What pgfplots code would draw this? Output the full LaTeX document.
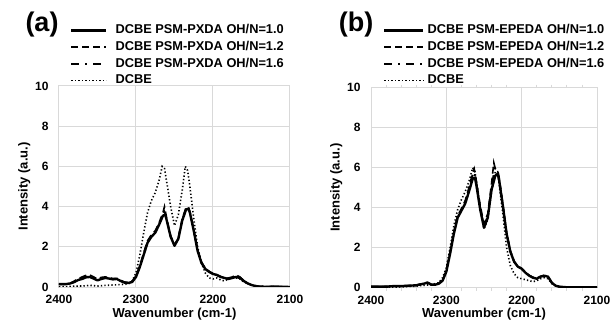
\documentclass[border=0pt]{standalone}
\usepackage{fontspec}
\setmainfont{Liberation Sans}
\usepackage{pgfplots}
\pgfplotsset{compat=1.18}
\definecolor{gridc}{RGB}{217,217,217}
\pgfplotsset{
  spec/.style={
    scale only axis, x dir=reverse, xmin=2100, xmax=2400, ymin=0, ymax=10,
    xtick={2100,2200,2300,2400}, ytick={0,2,4,6,8,10},
    grid=major, major grid style={gridc, line width=1bp},
    axis line style={gridc, line width=1bp},
    major tick length=0pt,
    /pgf/number format/assume math mode=true,
    /pgf/number format/set thousands separator={},
    tick label style={font=\fontsize{12bp}{14bp}\selectfont\bfseries, black},
    label style={font=\fontsize{13bp}{15bp}\selectfont\bfseries},
    xlabel={Wavenumber (cm-1)}, ylabel={Intensity (a.u.)},
    xticklabel style={yshift=-5bp}, yticklabel style={xshift=-7bp},
    xlabel style={yshift=3bp}, ylabel style={yshift=-2bp},
    legend cell align=left,
    legend style={draw=none, fill=none, inner sep=0pt, row sep=5.2bp, column sep=0pt,
      font=\fontsize{12.8bp}{14bp}\selectfont\bfseries, anchor=north west,
      nodes={inner sep=0pt, text height=9bp, text depth=2.5bp}},
  },
  s10/.style={black, line width=2.4bp, line join=round},
  s12/.style={black, line width=1.6bp, dash pattern=on 7bp off 4bp},
  s16/.style={black, line width=1.6bp, dash pattern=on 8bp off 6bp on 2bp off 6bp},
  sdc/.style={black, line width=1.6bp, dash pattern=on 1.3bp off 2.2bp},
}
\begin{document}
\begin{tikzpicture}
\useasboundingbox (0,0) rectangle (613bp,331bp);
\begin{axis}[spec, at={(59bp,44bp)}, anchor=south west, width=231bp, height=201bp,
  legend style={at={(0.0476,1.306)}},
  legend image code/.code={\draw[#1] (0bp,0bp) -- (35bp,0bp); \path (43bp,0bp);}]
\addplot[s10] coordinates {(2400,0.15)(2395,0.15)(2390,0.15)(2385,0.18)(2380,0.25)(2375,0.35)(2370,0.4)(2365,0.48)(2360,0.5)(2355,0.42)(2350,0.33)(2345,0.4)(2340,0.45)(2335,0.42)(2330,0.38)(2325,0.4)(2320,0.3)(2315,0.22)(2310,0.2)(2305,0.25)(2300,0.5)(2295,1.0)(2290,1.6)(2285,2.2)(2280,2.5)(2275,2.7)(2270,3.1)(2265,3.55)(2262,3.6)(2260,3.3)(2255,2.5)(2250,2.05)(2245,2.4)(2240,3.3)(2235,3.85)(2232,3.9)(2230,3.7)(2225,2.8)(2220,1.8)(2215,1.2)(2210,0.9)(2205,0.75)(2200,0.65)(2195,0.6)(2190,0.5)(2185,0.45)(2180,0.4)(2175,0.45)(2170,0.5)(2165,0.45)(2160,0.3)(2155,0.18)(2150,0.1)(2145,0.05)(2140,0.02)(2130,0.01)(2120,0.02)(2110,0.01)(2100,0)};
\addlegendentry{DCBE PSM-PXDA OH/N=1.0}
\addplot[s12] coordinates {(2400,0.15)(2395,0.15)(2390,0.16)(2385,0.2)(2380,0.3)(2375,0.42)(2370,0.5)(2365,0.58)(2360,0.6)(2355,0.5)(2350,0.4)(2345,0.48)(2340,0.5)(2335,0.47)(2330,0.42)(2325,0.43)(2320,0.33)(2315,0.25)(2310,0.22)(2305,0.28)(2300,0.55)(2295,1.05)(2290,1.7)(2285,2.3)(2280,2.6)(2275,2.8)(2270,3.2)(2265,3.7)(2263,4.0)(2260,3.4)(2255,2.55)(2250,2.1)(2245,2.45)(2240,3.4)(2235,3.95)(2232,4.0)(2230,3.75)(2225,2.85)(2220,1.85)(2215,1.25)(2210,0.92)(2205,0.78)(2200,0.67)(2195,0.6)(2190,0.52)(2185,0.47)(2180,0.45)(2175,0.5)(2170,0.6)(2165,0.5)(2160,0.32)(2155,0.18)(2150,0.1)(2145,0.05)(2140,0.02)(2130,0.01)(2120,0.02)(2110,0.01)(2100,0)};
\addlegendentry{DCBE PSM-PXDA OH/N=1.2}
\addplot[s16] coordinates {(2400,0.12)(2395,0.12)(2390,0.13)(2385,0.17)(2380,0.25)(2375,0.38)(2370,0.45)(2365,0.52)(2360,0.55)(2355,0.45)(2350,0.36)(2345,0.44)(2340,0.48)(2335,0.45)(2330,0.4)(2325,0.42)(2320,0.32)(2315,0.23)(2310,0.2)(2305,0.26)(2300,0.52)(2295,1.02)(2290,1.65)(2285,2.25)(2280,2.55)(2275,2.75)(2270,3.15)(2265,3.6)(2263,3.75)(2260,3.35)(2255,2.5)(2250,2.08)(2245,2.42)(2240,3.35)(2235,3.9)(2232,3.95)(2230,3.72)(2225,2.82)(2220,1.82)(2215,1.22)(2210,0.9)(2205,0.76)(2200,0.66)(2195,0.6)(2190,0.5)(2185,0.46)(2180,0.42)(2175,0.48)(2170,0.55)(2165,0.48)(2160,0.3)(2155,0.18)(2150,0.1)(2145,0.05)(2140,0.02)(2130,0.01)(2120,0.02)(2110,0.01)(2100,0)};
\addlegendentry{DCBE PSM-PXDA OH/N=1.6}
\addplot[sdc] coordinates {(2400,0.0)(2390,0.02)(2380,0.04)(2370,0.05)(2360,0.08)(2350,0.05)(2340,0.08)(2330,0.1)(2320,0.12)(2310,0.15)(2305,0.3)(2300,0.7)(2295,1.6)(2290,2.7)(2285,3.7)(2280,4.3)(2275,4.7)(2270,5.3)(2266,6.0)(2263,5.9)(2260,5.2)(2255,4.0)(2250,3.05)(2245,3.6)(2240,4.8)(2236,6.0)(2233,5.8)(2230,5.0)(2225,3.4)(2220,2.0)(2215,1.2)(2210,0.7)(2205,0.45)(2200,0.4)(2195,0.45)(2190,0.35)(2185,0.3)(2180,0.4)(2175,0.45)(2170,0.45)(2165,0.4)(2160,0.25)(2150,0.1)(2140,0.03)(2120,0.01)(2100,0)};
\addlegendentry{DCBE}
\end{axis}
\begin{axis}[spec, at={(371bp,43.3bp)}, anchor=south west, width=226bp, height=200bp,
  minor x tick num=4, minor tick length=3bp, tick align=outside,
  minor tick style={gridc, line width=0.8bp},
  legend style={at={(0.053,1.316)}},
  legend image code/.code={\draw[#1] (0bp,0bp) -- (39bp,0bp); \path (42bp,0bp);}]
\addplot[s10] coordinates {(2400,0.05)(2390,0.05)(2380,0.05)(2370,0.08)(2360,0.08)(2350,0.1)(2340,0.12)(2330,0.2)(2325,0.25)(2320,0.15)(2315,0.15)(2310,0.2)(2305,0.35)(2300,0.8)(2295,1.7)(2290,2.7)(2285,3.5)(2280,3.85)(2275,4.2)(2270,4.8)(2265,5.45)(2262,5.5)(2260,5.1)(2255,3.9)(2250,3.0)(2245,3.5)(2240,4.9)(2235,5.6)(2232,5.7)(2230,5.4)(2225,4.1)(2220,2.7)(2215,1.8)(2210,1.3)(2205,1.05)(2200,0.95)(2195,0.75)(2190,0.6)(2185,0.5)(2180,0.45)(2175,0.55)(2170,0.6)(2165,0.55)(2160,0.25)(2155,0.1)(2150,0.05)(2140,0.02)(2120,0.02)(2100,0.02)};
\addlegendentry{DCBE PSM-EPEDA OH/N=1.0}
\addplot[s12] coordinates {(2400,0.05)(2390,0.05)(2380,0.06)(2370,0.08)(2360,0.09)(2350,0.1)(2340,0.13)(2330,0.22)(2325,0.27)(2320,0.17)(2315,0.16)(2310,0.22)(2305,0.38)(2300,0.85)(2295,1.8)(2290,2.8)(2285,3.6)(2280,3.95)(2275,4.35)(2270,5.0)(2265,5.75)(2263,5.95)(2260,5.3)(2255,4.1)(2250,3.2)(2245,3.7)(2240,5.2)(2237,6.25)(2235,5.95)(2232,5.9)(2230,5.55)(2225,4.2)(2220,2.75)(2215,1.85)(2210,1.32)(2205,1.07)(2200,0.97)(2195,0.77)(2190,0.62)(2185,0.52)(2180,0.47)(2175,0.57)(2170,0.62)(2165,0.56)(2160,0.25)(2155,0.1)(2150,0.05)(2140,0.02)(2120,0.02)(2100,0.02)};
\addlegendentry{DCBE PSM-EPEDA OH/N=1.2}
\addplot[s16] coordinates {(2400,0.05)(2390,0.05)(2380,0.05)(2370,0.08)(2360,0.08)(2350,0.1)(2340,0.12)(2330,0.21)(2325,0.26)(2320,0.16)(2315,0.15)(2310,0.21)(2305,0.36)(2300,0.82)(2295,1.75)(2290,2.75)(2285,3.55)(2280,3.9)(2275,4.3)(2270,4.9)(2265,5.6)(2263,5.8)(2260,5.2)(2255,4.0)(2250,3.1)(2245,3.6)(2240,5.0)(2236,6.0)(2233,5.8)(2230,5.5)(2225,4.15)(2220,2.72)(2215,1.82)(2210,1.3)(2205,1.06)(2200,0.96)(2195,0.76)(2190,0.61)(2185,0.51)(2180,0.46)(2175,0.56)(2170,0.61)(2165,0.55)(2160,0.25)(2155,0.1)(2150,0.05)(2140,0.02)(2120,0.02)(2100,0.02)};
\addlegendentry{DCBE PSM-EPEDA OH/N=1.6}
\addplot[sdc] coordinates {(2400,0.0)(2390,0.01)(2380,0.02)(2370,0.03)(2360,0.04)(2350,0.06)(2340,0.08)(2330,0.12)(2320,0.15)(2310,0.25)(2305,0.5)(2300,1.0)(2295,2.0)(2290,3.1)(2285,3.9)(2280,4.4)(2275,4.8)(2270,5.3)(2265,6.0)(2262,5.8)(2260,5.3)(2255,4.0)(2250,2.95)(2245,3.4)(2240,4.8)(2235,5.8)(2232,5.8)(2230,5.2)(2225,3.7)(2220,2.0)(2215,1.1)(2210,0.7)(2205,0.5)(2200,0.45)(2195,0.4)(2190,0.35)(2185,0.3)(2180,0.35)(2175,0.45)(2170,0.5)(2165,0.45)(2160,0.2)(2150,0.05)(2140,0.02)(2120,0.01)(2100,0)};
\addlegendentry{DCBE}
\end{axis}
\node[font=\fontsize{27bp}{30bp}\selectfont\bfseries] at (42bp,306bp) {(a)};
\node[font=\fontsize{27bp}{30bp}\selectfont\bfseries] at (356bp,306bp) {(b)};
\end{tikzpicture}
\end{document}
